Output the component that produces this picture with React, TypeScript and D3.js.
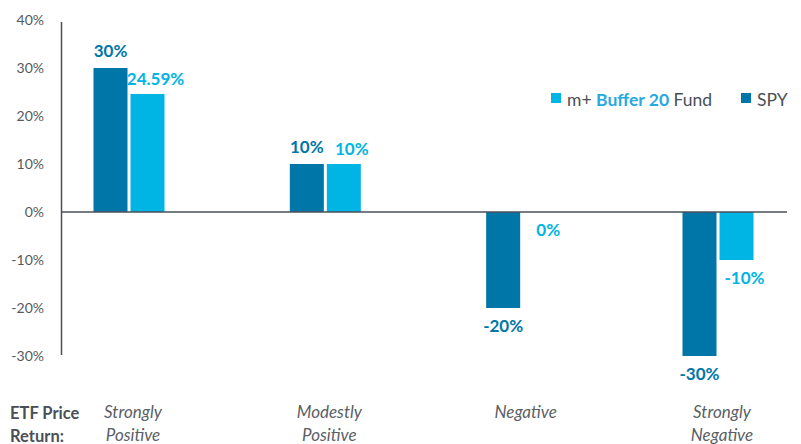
import { useMemo } from 'react';
import * as d3 from 'd3';

const WIDTH = 801;
const HEIGHT = 444;

const DARK = '#0076a8';
const LIGHT = '#00b4e3';
const TEXT = '#4a4f55';
const FONT = 'Lato, "Open Sans", sans-serif';

const categories = ['Strongly Positive', 'Modestly Positive', 'Negative', 'Strongly Negative'];
const categoryLines = [['Strongly', 'Positive'], ['Modestly', 'Positive'], ['Negative'], ['Strongly', 'Negative']];
const spyValues = [30, 10, -20, -30];
const fundValues = [24.59, 10, 0, -10];
const spyLabels = ['30%', '10%', '-20%', '-30%'];
const fundLabels = ['24.59%', '10%', '0%', '-10%'];
const yTicks = [40, 30, 20, 10, 0, -10, -20, -30];

const BAR_W = 34;
const BAR_GAP = 3;

const App = () => {
  const x = useMemo(
    () => d3.scalePoint<string>().domain(categories).range([129, 718]),
    []
  );
  const y = useMemo(() => d3.scaleLinear().domain([-30, 40]).range([356, 20]), []);

  const bars = categories.map((c, i) => {
    const cx = x(c)!;
    const sx = cx - BAR_W - BAR_GAP / 2;
    const fx = cx + BAR_GAP / 2;
    const sv = spyValues[i];
    const fv = fundValues[i];
    const sy = sv >= 0 ? y(sv) : y(0);
    const fy = fv >= 0 ? y(fv) : y(0);
    const sh = Math.abs(y(sv) - y(0));
    const fh = Math.abs(y(fv) - y(0));
    const sLabelY = sv > 0 ? y(sv) - 11 : y(sv) + 24;
    const fLabelY = fv > 0 ? y(fv) - 9 : y(fv) + 24;
    return (
      <g key={c}>
        <rect x={sx} y={sy} width={BAR_W} height={sh} fill={DARK} />
        <rect x={fx} y={fy} width={BAR_W} height={fh} fill={LIGHT} />
        <text x={sx + BAR_W / 2} y={sLabelY} textAnchor="middle" fontSize={17} fontWeight={700} fill={DARK}>
          {spyLabels[i]}
        </text>
        <text x={fx + BAR_W / 2 + 8} y={fLabelY} textAnchor="middle" fontSize={17} fontWeight={700} fill={LIGHT}>
          {fundLabels[i]}
        </text>
      </g>
    );
  });

  return (
    <svg width={WIDTH} height={HEIGHT} style={{ display: 'block', margin: '-8px 0 0 -8px', fontFamily: FONT }}>
      {yTicks.map((t) => (
        <text key={t} x={44} y={y(t) + 5} textAnchor="end" fontSize={14} fill="#555a60">
          {t + '%'}
        </text>
      ))}
      {bars}
      <line x1={61.5} x2={61.5} y1={22} y2={355} stroke="#4a5058" strokeWidth={1.5} />
      <line x1={61} x2={787} y1={y(0)} y2={y(0)} stroke="#4a5058" strokeWidth={1.5} />

      {/* legend */}
      <rect x={551} y={93} width={10} height={10} fill={LIGHT} />
      <text x={567} y={106} fontSize={17.5} fill={TEXT}>
        m+ <tspan fill="#27a9e1" fontWeight={700}>Buffer 20</tspan> Fund
      </text>
      <rect x={741} y={93} width={10} height={10} fill={DARK} />
      <text x={757} y={106} fontSize={17.5} fill={TEXT}>SPY</text>

      {/* category labels */}
      <text x={10} y={419} fontSize={16.5} fontWeight={700} fill={TEXT}>ETF Price</text>
      <text x={10} y={442} fontSize={16.5} fontWeight={700} fill={TEXT}>Return:</text>
      {categories.map((c, i) => (
        <text key={c} x={x(c)! + 4} textAnchor="middle" fontSize={17} fontStyle="italic" fill="#5a5f66">
          {categoryLines[i].map((l, j) => (
            <tspan key={j} x={x(c)! + 4} y={418 + j * 23}>{l}</tspan>
          ))}
        </text>
      ))}
    </svg>
  );
};

export default App;
